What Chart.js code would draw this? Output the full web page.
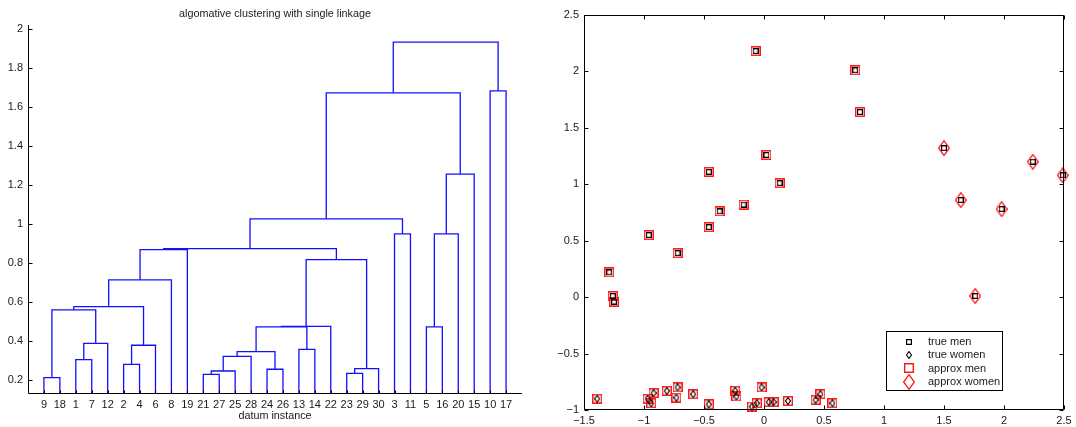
<!DOCTYPE html>
<html><head><meta charset="utf-8">
<script src="https://cdn.jsdelivr.net/npm/chart.js@4/dist/chart.umd.min.js"></script>
<style>
html,body{margin:0;padding:0;background:#fff;}
#wrap{position:relative;width:1076px;height:427px;overflow:hidden;}
#c1{position:absolute;left:0;top:0;}
#c2{position:absolute;left:540px;top:0;}
</style></head><body>
<div id="wrap"><canvas id="c1" width="540" height="427"></canvas><canvas id="c2" width="536" height="427"></canvas></div>
<script>
// ---------- dendrogram data ----------
const leafOrder = [9,18,1,7,12,2,4,6,8,19,21,27,25,28,24,26,13,14,22,23,29,30,3,11,5,16,20,15,10,17];
// merges create node ids 31, 32, ... in order
const mergeLeft   = [9,21,23,32,24,33,2,1,34,39,13,37,38,40,5,44,31,47,48,46,49,51,3,45,52,54,55,10,57];
const mergeRight  = [18,27,29,25,26,30,4,7,28,35,14,6,12,41,16,22,43,42,8,36,19,50,11,20,53,15,56,17,58];
const mergeHeight = [0.212,0.229,0.234,0.246,0.255,0.258,0.280,0.304,0.321,0.345,0.357,0.378,0.388,0.472,0.472,0.475,0.559,0.576,0.713,0.817,0.868,0.873,0.949,0.949,1.026,1.255,1.672,1.682,1.932];
const dendroYTicks = [0.2,0.4,0.6,0.8,1,1.2,1.4,1.6,1.8,2];
const dendroTitle = 'algomative clustering with single linkage';
const dendroXLabel = 'datum instance';

// ---------- scatter data ----------
const trueMenX   = [-0.07,0.76,0.80,0.02,-0.46,0.13,-0.17,-0.37,-0.46,-0.96,-0.72,-1.29,-1.26,-1.25,1.50,2.24,2.49,1.64,1.98,1.76];
const trueMenY   = [2.18,2.01,1.64,1.26,1.11,1.01,0.82,0.76,0.62,0.55,0.39,0.22,0.01,-0.04,1.32,1.20,1.08,0.86,0.78,0.01];
const trueWomenX = [-1.39,-0.97,-0.94,-0.92,-0.81,-0.72,-0.73,-0.59,-0.46,-0.24,-0.23,-0.02,-0.10,-0.06,0.04,0.08,0.20,0.43,0.47,0.57];
const trueWomenY = [-0.90,-0.90,-0.94,-0.85,-0.83,-0.80,-0.89,-0.86,-0.95,-0.83,-0.88,-0.80,-0.97,-0.94,-0.93,-0.93,-0.92,-0.91,-0.86,-0.94];
const approxMenX   = [-0.07,0.76,0.80,0.02,-0.46,0.13,-0.17,-0.37,-0.46,-0.96,-0.72,-1.29,-1.26,-1.25,-1.39,-0.97,-0.94,-0.92,-0.81,-0.72,-0.73,-0.59,-0.46,-0.24,-0.23,-0.02,-0.10,-0.06,0.04,0.08,0.20,0.43,0.47,0.57];
const approxMenY   = [2.18,2.01,1.64,1.26,1.11,1.01,0.82,0.76,0.62,0.55,0.39,0.22,0.01,-0.04,-0.90,-0.90,-0.94,-0.85,-0.83,-0.80,-0.89,-0.86,-0.95,-0.83,-0.88,-0.80,-0.97,-0.94,-0.93,-0.93,-0.92,-0.91,-0.86,-0.94];
const approxWomenX = [1.50,2.24,2.49,1.64,1.98,1.76];
const approxWomenY = [1.32,1.20,1.08,0.86,0.78,0.01];
const scatterXTicks = [-1.5,-1,-0.5,0,0.5,1,1.5,2,2.5];
const scatterYTicks = [-1,-0.5,0,0.5,1,1.5,2,2.5];
const legendLabels = ['true men','true women','approx men','approx women'];

const FONT = "'Liberation Sans', Arial, Helvetica, sans-serif";
const TXT = '#1a1a1a';
const fmt = v => (v < 0 ? '\u2212' + String(Math.abs(v)) : String(v));

// ---------- dendrogram segments ----------
const nodeX = {}, nodeY = {};
leafOrder.forEach((leaf, i) => { nodeX[leaf] = i + 1; nodeY[leaf] = 0; });
const dendroSets = mergeHeight.map((h, k) => {
  const id = 31 + k, a = mergeLeft[k], b = mergeRight[k];
  nodeX[id] = (nodeX[a] + nodeX[b]) / 2; nodeY[id] = h;
  return {
    data: [{x: nodeX[a], y: nodeY[a]}, {x: nodeX[a], y: h}, {x: nodeX[b], y: h}, {x: nodeX[b], y: nodeY[b]}],
    borderColor: '#1010ff', borderWidth: 1.3, pointRadius: 0, fill: false, tension: 0
  };
});

const leftFrame = {
  id: 'leftFrame',
  afterDraw(chart) {
    const {ctx, chartArea: a, scales: {x, y}} = chart;
    ctx.save(); ctx.strokeStyle = '#000'; ctx.lineWidth = 1;
    const L = Math.round(a.left) + 0.5, B = Math.round(a.bottom) - 0.5;
    ctx.beginPath();
    ctx.moveTo(L, a.top); ctx.lineTo(L, B); ctx.lineTo(a.right, B);
    y.ticks.forEach(t => { const p = Math.round(y.getPixelForValue(t.value)) + 0.5; ctx.moveTo(L, p); ctx.lineTo(L + 4, p); });
    x.ticks.forEach(t => { const p = Math.round(x.getPixelForValue(t.value)) + 0.5; ctx.moveTo(p, B); ctx.lineTo(p, B - 3); });
    ctx.stroke();
    ctx.font = '10.8px ' + FONT; ctx.fillStyle = TXT; ctx.textAlign = 'center'; ctx.textBaseline = 'middle';
    ctx.fillText(dendroTitle, (a.left + a.right) / 2, 14);
    ctx.restore();
  }
};

new Chart(document.getElementById('c1'), {
  type: 'line',
  data: {datasets: dendroSets},
  options: {
    responsive: false, animation: false, events: [],
    layout: {padding: {top: 25, right: 18, left: 0, bottom: 0}},
    plugins: {legend: {display: false}, tooltip: {enabled: false}, title: {display: false}},
    scales: {
      x: {type: 'linear', min: 0, max: 31,
          afterBuildTicks: s => { s.ticks = leafOrder.map((l, i) => ({value: i + 1})); },
          afterFit: s => { s.height = 33; },
          ticks: {autoSkip: false, maxRotation: 0, color: TXT, padding: 4, font: {family: FONT, size: 11},
                  callback: v => String(leafOrder[Math.round(v) - 1])},
          grid: {display: false, drawTicks: false}, border: {display: false},
          title: {display: true, text: dendroXLabel, color: TXT, font: {family: FONT, size: 10.8}, padding: {top: 0, bottom: 4}}},
      y: {type: 'linear', min: 0.128, max: 2.02,
          afterBuildTicks: s => { s.ticks = dendroYTicks.map(v => ({value: v})); },
          afterFit: s => { s.width = 28; },
          ticks: {color: TXT, padding: 5, font: {family: FONT, size: 11}, callback: v => String(Math.round(v * 10) / 10)},
          grid: {display: false, drawTicks: false}, border: {display: false}}
    }
  },
  plugins: [leftFrame]
});

// ---------- scatter markers ----------
function marker(shape, w, h, color, lw) {
  const c = document.createElement('canvas'); c.width = w; c.height = h;
  const g = c.getContext('2d'); g.strokeStyle = color; g.lineWidth = lw;
  g.beginPath();
  if (shape === 'square') { g.rect(lw / 2, lw / 2, w - lw, h - lw); }
  else { g.moveTo(w / 2, lw / 2); g.lineTo(w - lw / 2, h / 2); g.lineTo(w / 2, h - lw / 2); g.lineTo(lw / 2, h / 2); g.closePath(); }
  g.stroke();
  return c;
}
const mTrueMen = marker('square', 6, 6, '#000', 1.2);
const mTrueWomen = marker('diamond', 6, 8, '#000', 1.1);
const mApproxMen = marker('square', 10, 10, '#ff1a1a', 1.4);
const mApproxWomen = marker('diamond', 12, 16, '#ff1a1a', 1.3);

const pts = (xs, ys) => xs.map((x, i) => ({x, y: ys[i]}));
const scatterSets = [
  {label: legendLabels[0], data: pts(trueMenX, trueMenY), pointStyle: mTrueMen},
  {label: legendLabels[1], data: pts(trueWomenX, trueWomenY), pointStyle: mTrueWomen},
  {label: legendLabels[2], data: pts(approxMenX, approxMenY), pointStyle: mApproxMen},
  {label: legendLabels[3], data: pts(approxWomenX, approxWomenY), pointStyle: mApproxWomen}
].map(d => Object.assign(d, {pointRadius: 5, showLine: false, clip: false}));

const rightFrame = {
  id: 'rightFrame',
  afterDraw(chart) {
    const {ctx, chartArea: a, scales: {x, y}} = chart;
    ctx.save(); ctx.strokeStyle = '#000'; ctx.lineWidth = 1;
    const L = Math.round(a.left) + 0.5, R = Math.round(a.right) - 0.5, T = Math.round(a.top) + 0.5, B = Math.round(a.bottom) - 0.5;
    ctx.beginPath();
    ctx.rect(L, T, R - L, B - T);
    const tl = 4;
    x.ticks.forEach(t => { const p = Math.round(x.getPixelForValue(t.value)) + 0.5; ctx.moveTo(p, B); ctx.lineTo(p, B - tl); ctx.moveTo(p, T); ctx.lineTo(p, T + tl); });
    y.ticks.forEach(t => { const p = Math.round(y.getPixelForValue(t.value)) + 0.5; ctx.moveTo(L, p); ctx.lineTo(L + tl, p); ctx.moveTo(R, p); ctx.lineTo(R - tl, p); });
    ctx.stroke();
    // legend box
    const bx = 346.5, by = 331.5, bw = 116, bh = 59;
    ctx.fillStyle = '#fff'; ctx.fillRect(bx, by, bw, bh);
    ctx.strokeRect(bx, by, bw, bh);
    ctx.font = '11px ' + FONT; ctx.fillStyle = TXT; ctx.textBaseline = 'middle'; ctx.textAlign = 'left';
    chart.data.datasets.forEach((d, i) => {
      const ry = 341.5 + i * 13.4;
      const img = d.pointStyle;
      ctx.drawImage(img, Math.round(369 - img.width / 2), Math.round(ry - img.height / 2));
      ctx.fillText(d.label, 388, ry + 0.5);
    });
    ctx.restore();
  }
};

new Chart(document.getElementById('c2'), {
  type: 'scatter',
  data: {datasets: scatterSets},
  options: {
    responsive: false, animation: false, events: [],
    layout: {padding: {top: 15, right: 12, left: 0, bottom: 0}},
    plugins: {legend: {display: false}, tooltip: {enabled: false}},
    scales: {
      x: {type: 'linear', min: -1.5, max: 2.5,
          afterBuildTicks: s => { s.ticks = scatterXTicks.map(v => ({value: v})); },
          afterFit: s => { s.height = 17; },
          ticks: {color: TXT, padding: 4, maxRotation: 0, autoSkip: false, font: {family: FONT, size: 11}, callback: v => fmt(v)},
          grid: {display: false, drawTicks: false}, border: {display: false}},
      y: {type: 'linear', min: -1, max: 2.5,
          afterBuildTicks: s => { s.ticks = scatterYTicks.map(v => ({value: v})); },
          afterFit: s => { s.width = 44; },
          ticks: {color: TXT, padding: 5, font: {family: FONT, size: 11}, callback: v => fmt(v)},
          grid: {display: false, drawTicks: false}, border: {display: false}}
    }
  },
  plugins: [rightFrame]
});
</script>
</body></html>
